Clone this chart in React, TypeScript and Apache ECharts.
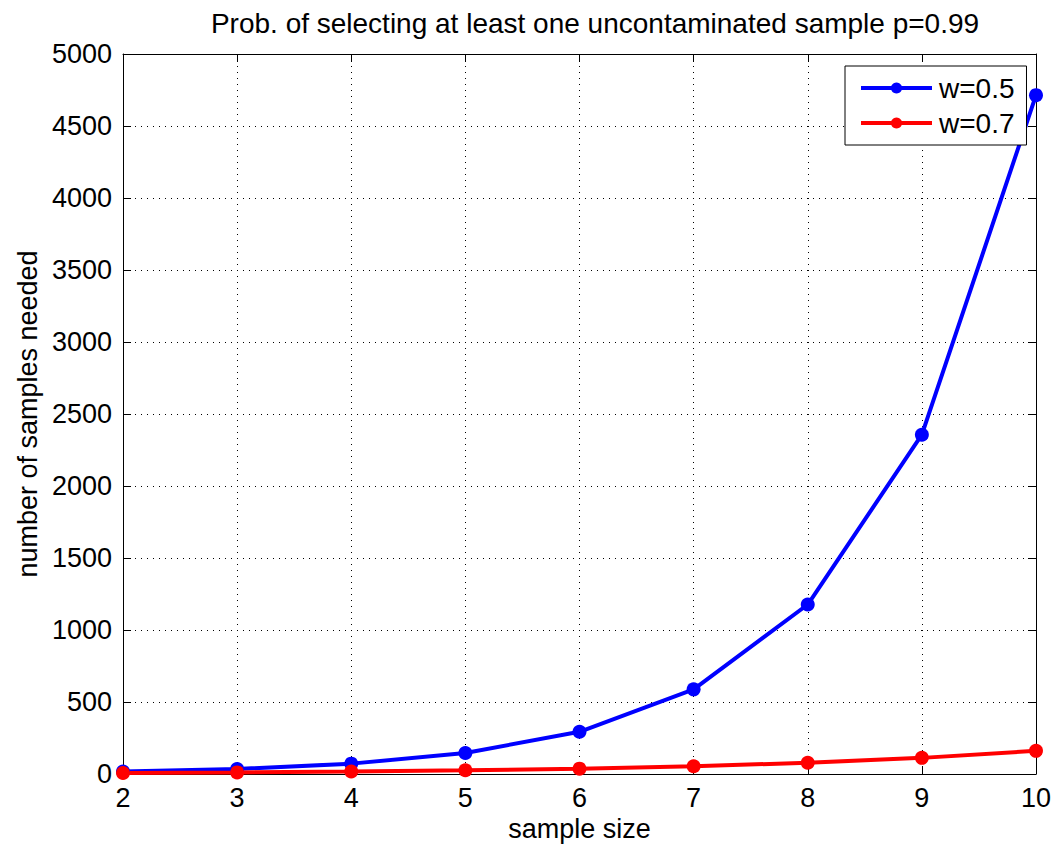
import React, { useEffect, useRef } from "react";
import * as echarts from "echarts";

const sampleSizes = [2, 3, 4, 5, 6, 7, 8, 9, 10];
const w05 = [17, 35, 72, 146, 293, 588, 1177, 2356, 4714];
const w07 = [7, 11, 17, 26, 37, 54, 78, 112, 161];
const seriesNames = ["w=0.5", "w=0.7"];
const titleText = "Prob. of selecting at least one uncontaminated sample p=0.99";

const FONT = "'Liberation Sans', Arial, Helvetica, sans-serif";

export default function App() {
  const ref = useRef<HTMLDivElement>(null);
  useEffect(() => {
    const chart = echarts.init(ref.current!, undefined, { renderer: "svg" });
    const pair = (ys: number[]) => sampleSizes.map((x, i) => [x, ys[i]]);
    const axisCommon = {
      axisLine: { show: true, onZero: false, lineStyle: { color: "#000", width: 1 } },
      axisTick: { show: true, inside: true, length: 8, lineStyle: { color: "#000" } },
    };
    const fmt = (v: number) => String(v);
    chart.setOption({
      animation: false,
      backgroundColor: "#fff",
      textStyle: { fontFamily: FONT },
      title: {
        text: titleText,
        left: 590,
        textAlign: "center",
        top: 4,
        textStyle: { fontSize: 28, fontWeight: "normal", color: "#000", fontFamily: FONT },
      },
      grid: { left: 123, right: 16, top: 54, bottom: 71, containLabel: false, outerBoundsMode: "none" },
      legend: {
        left: 845,
        top: 66,
        orient: "vertical",
        data: seriesNames,
        backgroundColor: "#fff",
        borderColor: "#000",
        borderWidth: 1,
        padding: [8, 12, 8, 14],
        itemGap: 7,
        itemWidth: 71,
        itemHeight: 14,
        lineStyle: { width: 4 },
        textStyle: { fontSize: 28, color: "#000", fontFamily: FONT, padding: [0, 0, 0, 2] },
      },
      xAxis: [
        {
          type: "value",
          min: 2,
          max: 10,
          interval: 1,
          name: "sample size",
          nameLocation: "middle",
          nameGap: 41,
          nameTextStyle: { fontSize: 27, color: "#000", fontFamily: FONT },
          ...axisCommon,
          axisLabel: { fontSize: 27, color: "#000", margin: 10, fontFamily: FONT, formatter: fmt },
          splitLine: { show: true, lineStyle: { color: "#000", type: [1, 5], width: 1 } },
        },
        {
          type: "value",
          position: "top",
          min: 2,
          max: 10,
          interval: 1,
          ...axisCommon,
          axisLabel: { show: false },
          splitLine: { show: false },
        },
      ],
      yAxis: [
        {
          type: "value",
          min: 0,
          max: 5000,
          interval: 500,
          name: "number of samples needed",
          nameLocation: "middle",
          nameGap: 82,
          nameTextStyle: { fontSize: 27, color: "#000", fontFamily: FONT },
          ...axisCommon,
          axisLabel: { fontSize: 27, color: "#000", margin: 11, fontFamily: FONT, formatter: fmt },
          splitLine: { show: true, lineStyle: { color: "#000", type: [1, 5], width: 1 } },
        },
        {
          type: "value",
          position: "right",
          min: 0,
          max: 5000,
          interval: 500,
          ...axisCommon,
          axisLabel: { show: false },
          splitLine: { show: false },
        },
      ],
      series: [
        {
          name: seriesNames[0],
          type: "line",
          data: pair(w05),
          symbol: "circle",
          symbolSize: 14,
          itemStyle: { color: "#0000ff" },
          lineStyle: { color: "#0000ff", width: 4 },
        },
        {
          name: seriesNames[1],
          type: "line",
          data: pair(w07),
          symbol: "circle",
          symbolSize: 14,
          itemStyle: { color: "#ff0000" },
          lineStyle: { color: "#ff0000", width: 4 },
        },
      ],
    });
    return () => chart.dispose();
  }, []);
  return <div ref={ref} style={{ width: 1052, height: 845, position: "absolute", left: 0, top: 0 }} />;
}
